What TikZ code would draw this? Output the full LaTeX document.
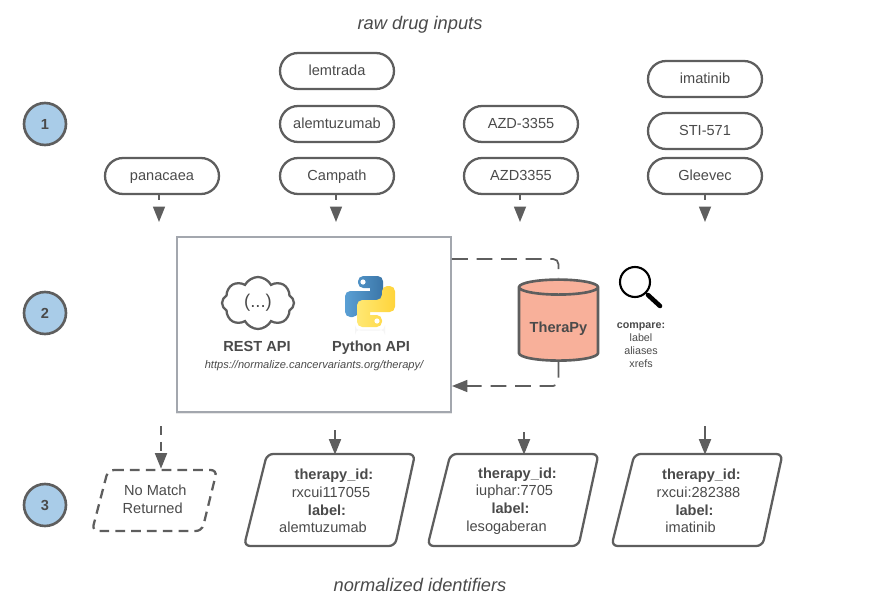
\documentclass[tikz,border=0pt]{standalone}
\usepackage{fontspec}
\setmainfont{Liberation Sans}
\usepackage{tikz}
\usetikzlibrary{arrows.meta,shapes.geometric,shapes.misc,shapes.symbols,shadows}
\definecolor{inkgray}{HTML}{4A4A4A}
\definecolor{linegray}{HTML}{5E5E5E}
\definecolor{stepblue}{HTML}{A9CCE8}
\definecolor{salmon}{HTML}{F8B09A}
\definecolor{boxgray}{HTML}{A3A7AE}
\definecolor{pyblue}{HTML}{3B76A8}
\definecolor{pylight}{HTML}{5A9FD4}
\definecolor{pyyellow}{HTML}{FFD43B}
\definecolor{pypale}{HTML}{FFE873}
\newcommand{\txt}{\fontsize{8.3}{10}\selectfont}
\newcommand{\smalltxt}{\fontsize{6.1}{7.4}\selectfont}
\newcommand{\resultlines}[2]{\hspace*{5.1pt}\textbf{therapy\_id:}\\\hspace*{1.7pt}#1\\\hspace*{-2.8pt}\textbf{label:}\\\hspace*{-7.4pt}#2}
\tikzset{
  pill/.style={rounded rectangle,draw=linegray,line width=1.3pt,minimum width=2.28cm,minimum height=0.72cm,inner sep=0pt,text height=7.2pt,text depth=1.8pt,text=inkgray,font=\txt},
  stepnum/.style={circle,draw=linegray,line width=1.5pt,fill=stepblue,minimum size=0.84cm,inner sep=0pt,text=inkgray,font=\txt\bfseries},
  caption/.style={text=inkgray,font=\fontsize{10.4}{12}\selectfont\itshape},
  label/.style={text=inkgray,align=center,inner sep=0pt,font=\txt},
  apilabel/.style={text=inkgray,inner sep=0pt,text height=6.5pt,text depth=1.8pt,font=\txt\bfseries},
  outline/.style={draw=linegray,line width=1.3pt,rounded corners=3.5pt},
  inarrow/.style={draw=linegray,line width=1pt,dash pattern=on 3pt off 4pt,-{Triangle[length=3.1mm,width=2.4mm,fill=linegray]}},
  outarrow/.style={draw=linegray,line width=1pt,-{Triangle[length=3.1mm,width=2.4mm,fill=linegray]}},
  longdash/.style={draw=linegray,line width=1pt,dash pattern=on 9pt off 5pt,rounded corners=3pt}
}
\begin{document}
\begin{tikzpicture}[x=0.02cm,y=-0.02cm]
\useasboundingbox (0,0) rectangle (876,605);
\node[caption] (rawtitle) at (420,25) {raw drug inputs};
\node[caption] (normtitle) at (420,585) {normalized identifiers};
\foreach \n/\y in {1/124,2/313,3/505}{
  \node[stepnum] (step\n) at (45,\y) {\n};
}
\foreach \name/\x/\y/\drug in {panacaea/162/176/panacaea,lemtrada/337/71/lemtrada,alemtuzumab/337/124/alemtuzumab,campath/337/176/Campath,azddash/521/124/AZD-3355,azd/521/176/AZD3355,imatinib/705/79/imatinib,sti/705/131/STI-571,gleevec/705/176/Gleevec}{
  \node[pill] (\name) at (\x,\y) {\drug};
}
\foreach \name/\x in {panacaea/159,campath/336,azd/520,gleevec/705}{
  \coordinate (in\name) at (\x,222);
  \draw[inarrow] (\name.south -| in\name) -- (in\name);
}
% api box
\node[draw=boxgray,line width=1.1pt,fill=white,general shadow={fill=gray!18,shadow xshift=0pt,shadow yshift=-0.8pt,shadow scale=1.006},minimum width=5.48cm,minimum height=3.5cm] (apibox) at (314,324.5) {};
\node[cloud,cloud puffs=8,cloud puff arc=125,aspect=1.4,draw=linegray,line width=1.3pt,minimum width=1.44cm,minimum height=1.04cm,inner sep=0pt,text=inkgray,font=\fontsize{10.5}{12}\selectfont] (cloud) at (258,303) {(...)};
\node[apilabel] (restapi) at (257,347) {REST API};
\node[apilabel] (pythonapi) at (371,347) {Python API};
\node[label,font=\fontsize{6.3}{7.4}\selectfont\itshape] (apiurl) at (314,366) {https://normalize.cancervariants.org/therapy/};
\begin{scope}[shift={(370,301.5)},rounded corners=3pt]
  \fill[gray!8] (-15,28) rectangle (15,29);
  \shade[left color=pylight,right color=pyblue] (-12,-25.5) -- (13,-25.5) -- (13,1.5) -- (-12,1.5) -- (-12,15.5) -- (-25,15.5) -- (-25,-10.5) [sharp corners] -- (0,-10.5) -- (0,-13.5) [rounded corners=3pt] -- (-12,-13.5) -- cycle;
  \shade[left color=pypale,right color=pyyellow] (12,25.5) -- (-13,25.5) -- (-13,-1.5) -- (12,-1.5) -- (12,-15.5) -- (25,-15.5) -- (25,10.5) [sharp corners] -- (0,10.5) -- (0,13.5) [rounded corners=3pt] -- (12,13.5) -- cycle;
  \fill[white] (-7,-19.5) circle (2.6);
  \fill[white] (7,19.5) circle (2.6);
\end{scope}
% database
\node[cylinder,shape border rotate=90,aspect=0.26,draw=linegray,line width=1.5pt,fill=salmon,minimum width=1.58cm,minimum height=1.62cm,inner sep=0pt,text height=10.6pt,text=inkgray,font=\txt\bfseries] (therapy) at (558.5,324.5) {TheraPy};
\coordinate (boxout) at (apibox.east |- 0,259);
\coordinate (boxin) at (apibox.east |- 0,386);
\draw[longdash] (boxout) -| (therapy.north);
\draw[longdash,-{Triangle[length=3.1mm,width=2.4mm,fill=linegray]}] (therapy.south) |- (boxin);
\node[circle,draw=black,line width=1.2pt,minimum size=0.6cm,inner sep=0pt] (lens) at (635,282) {};
\coordinate (lensend) at (660,306);
\draw[black,line width=2.6pt,line cap=round] (648,295) -- (lensend);
\draw[black,line width=1pt] (lens.south east) -- (648,295);
\node[label,font=\smalltxt] (compare) at (641,345) {\textbf{compare:}\\label\\aliases\\xrefs};
% results
\node[label,minimum height=1.22cm] (nomatch) at (154,499.5) {\hspace*{1.5pt}No Match\\\hspace*{-1.5pt}Returned};
\draw[outline,dashed,dash pattern=on 5.5pt off 3.5pt] (108,470) -- (217,470) -- (202,531) -- (92,531) -- cycle;
\foreach \n/\x/\id/\lab in {r1/329.5/rxcui117055/alemtuzumab,r2/513/iuphar:7705/lesogaberan,r3/697/rxcui:282388/imatinib}{
  \node[label,minimum height=1.84cm] (\n) at (\x,501) {\resultlines{\id}{\lab}};
  \draw[outline] ({\x-62.5},454) -- ({\x+85.5},454) -- ({\x+65.5},546) -- ({\x-85.5},546) -- cycle;
}
\foreach \n/\x/\y in {r1/335/430,r2/524/432,r3/705/426}{
  \coordinate (from\n) at (\x,\y);
  \draw[outarrow] (from\n) -- (from\n |- \n.north);
}
\coordinate (fromnone) at (161,426);
\draw[outarrow,dash pattern=on 5pt off 4pt] (fromnone) -- (fromnone |- nomatch.north);
\end{tikzpicture}
\end{document}
